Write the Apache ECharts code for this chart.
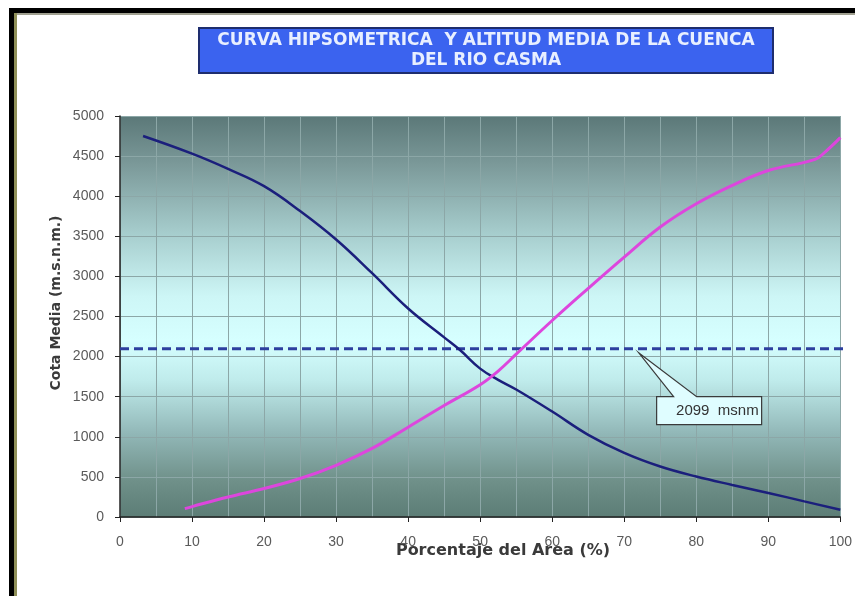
<!DOCTYPE html>
<html>
<head>
<meta charset="utf-8">
<script src="https://cdn.jsdelivr.net/npm/echarts@6/dist/echarts.min.js"></script>
<style>
  html, body { margin: 0; padding: 0; background: #ffffff; }
  #chart { width: 855px; height: 596px; }
</style>
</head>
<body>
<div id="chart"></div>
<script>
// Hypsometric curve of the Casma river basin
// Area percentage (x) vs elevation (m.s.n.m.)

// Curve of area lying above each elevation (descending)
const areaAbove = [3.2, 10, 15, 20, 25, 30, 35, 40, 45, 47.2, 50, 52.5, 55, 60, 65, 70, 75, 80, 85, 90, 95, 100];
const cotaAbove = [4750, 4530, 4340, 4125, 3815, 3460, 3040, 2600, 2240, 2082, 1850, 1710, 1590, 1315, 1025, 800, 630, 505, 400, 300, 195, 90];

// Curve of area lying below each elevation (ascending)
const areaBelow = [9, 10, 15, 20, 25, 30, 35, 40, 45, 50, 52.5, 55, 60, 65, 70, 75, 80, 85, 90, 96.5, 98, 100];
const cotaBelow = [105, 130, 250, 355, 480, 645, 855, 1120, 1390, 1650, 1820, 2030, 2450, 2850, 3240, 3615, 3905, 4135, 4320, 4460, 4560, 4730];

// Mean altitude of the basin and where its callout points
const altitudMedia = 2099;
const mediaSpan = [0, 100.6];
const calloutAt = 72;

// Axis ticks
const xTicks = [0, 10, 20, 30, 40, 50, 60, 70, 80, 90, 100];
const yTicks = [0, 500, 1000, 1500, 2000, 2500, 3000, 3500, 4000, 4500, 5000];

const zip = (xs, ys) => xs.map((x, i) => [x, ys[i]]);

const chart = echarts.init(document.getElementById('chart'), null, { renderer: 'canvas' });

const gridLine = { color: '#8ca7a7', width: 1 };
const labelFont = { color: '#5a5a5a', fontSize: 14, fontFamily: 'Liberation Sans, Arial, sans-serif' };

chart.setOption({
  animation: false,
  backgroundColor: '#ffffff',
  grid: {
    left: 120, right: 11, top: 116, bottom: 79,
    show: true,
    borderWidth: 0,
    backgroundColor: new echarts.graphic.LinearGradient(0, 0, 0, 1, [
      { offset: 0.00, color: '#5b7878' },
      { offset: 0.12, color: '#7b9999' },
      { offset: 0.30, color: '#a8cfcf' },
      { offset: 0.45, color: '#cdf6f6' },
      { offset: 0.56, color: '#d6ffff' },
      { offset: 0.66, color: '#bfebeb' },
      { offset: 0.79, color: '#92b8b8' },
      { offset: 0.91, color: '#6f9089' },
      { offset: 1.00, color: '#5c7d76' }
    ])
  },
  xAxis: {
    type: 'value',
    min: xTicks[0],
    max: xTicks[xTicks.length - 1],
    interval: 10,
    axisLine: { show: true, onZero: false, lineStyle: { color: '#222', width: 1.5 } },
    axisTick: { show: true, length: 5, lineStyle: { color: '#222' } },
    axisLabel: Object.assign({ margin: 18, formatter: v => String(v) }, labelFont),
    splitLine: { show: true, lineStyle: gridLine },
    minorTick: { show: false, splitNumber: 2 },
    minorSplitLine: { show: true, lineStyle: gridLine }
  },
  yAxis: {
    type: 'value',
    min: yTicks[0],
    max: yTicks[yTicks.length - 1],
    interval: 500,
    axisLine: { show: true, lineStyle: { color: '#222', width: 1.5 } },
    axisTick: { show: true, length: 5, lineStyle: { color: '#222' } },
    axisLabel: Object.assign({ margin: 16, formatter: v => String(v) }, labelFont),
    splitLine: { show: true, lineStyle: gridLine }
  },
  graphic: [
    // page frame
    { type: 'rect', shape: { x: 9, y: 8, width: 846, height: 5 }, style: { fill: '#000' }, silent: true },
    { type: 'rect', shape: { x: 9, y: 8, width: 5, height: 588 }, style: { fill: '#000' }, silent: true },
    { type: 'rect', shape: { x: 14, y: 13, width: 841, height: 2 }, style: { fill: '#a0a090' }, silent: true },
    { type: 'rect', shape: { x: 14, y: 13, width: 3, height: 583 }, style: { fill: '#8f8f58' }, silent: true },
    // title box
    {
      type: 'group', silent: true,
      children: [
        { type: 'rect', shape: { x: 199, y: 28, width: 574, height: 45 },
          style: { fill: '#3b63ef', stroke: '#1e2d6e', lineWidth: 2 } },
        { type: 'text', style: { text: 'CURVA HIPSOMETRICA  Y ALTITUD MEDIA DE LA CUENCA', x: 486, y: 41,
            align: 'center', verticalAlign: 'middle', fill: '#e8efff',
            font: 'bold 17px "DejaVu Sans", Verdana, sans-serif' } },
        { type: 'text', style: { text: 'DEL RIO CASMA', x: 486, y: 61,
            align: 'center', verticalAlign: 'middle', fill: '#e8efff',
            font: 'bold 17px "DejaVu Sans", Verdana, sans-serif' } }
      ]
    },
    // axis names
    { type: 'text', silent: true, style: { text: 'Porcentaje del Area (%)', x: 503, y: 551,
        align: 'center', verticalAlign: 'middle', fill: '#3a3a3a',
        font: 'bold 16px "DejaVu Sans", Verdana, sans-serif' } },
    { type: 'text', silent: true, rotation: Math.PI / 2, x: 56, y: 303,
      style: { text: 'Cota Media (m.s.n.m.)', x: 0, y: 0,
        align: 'center', verticalAlign: 'middle', fill: '#3a3a3a',
        font: 'bold 14px "DejaVu Sans", Verdana, sans-serif' } }
  ],
  series: [
    {
      name: 'Altitud media',
      type: 'line',
      data: mediaSpan.map(x => [x, altitudMedia]),
      clip: false,
      symbol: 'none',
      lineStyle: { color: '#2d3f9f', width: 3, type: [9, 5] },
      z: 3
    },
    {
      name: 'Area sobre la cota',
      type: 'line',
      data: zip(areaAbove, cotaAbove),
      smooth: 0.4,
      symbol: 'none',
      lineStyle: { color: '#1b1f7c', width: 2.5 },
      z: 4
    },
    {
      name: 'Area bajo la cota',
      type: 'line',
      data: zip(areaBelow, cotaBelow),
      smooth: 0.4,
      symbol: 'none',
      lineStyle: { color: '#dd46dd', width: 3 },
      z: 4
    },
    {
      name: 'Nota altitud media',
      type: 'custom',
      clip: false,
      data: [[calloutAt, altitudMedia]],
      z: 6,
      renderItem(params, api) {
        const p = api.coord([api.value(0), api.value(1)]);
        const tx = p[0], ty = p[1] + 4;
        const L = tx + 18, R = tx + 123, T = ty + 44, B = ty + 72;
        return {
          type: 'group',
          children: [
            { type: 'polygon',
              shape: { points: [[tx, ty], [tx + 58, T], [R, T], [R, B], [L, B], [L, T], [tx + 35, T]] },
              style: { fill: '#dffdff', stroke: '#3a3a3a', lineWidth: 1.2 } },
            { type: 'text',
              style: { text: api.value(1) + '  msnm', x: R - 3, y: (T + B) / 2,
                align: 'right', verticalAlign: 'middle', fill: '#333',
                font: '15px "Liberation Sans", Arial, sans-serif' } }
          ]
        };
      }
    }
  ]
});
</script>
</body>
</html>
